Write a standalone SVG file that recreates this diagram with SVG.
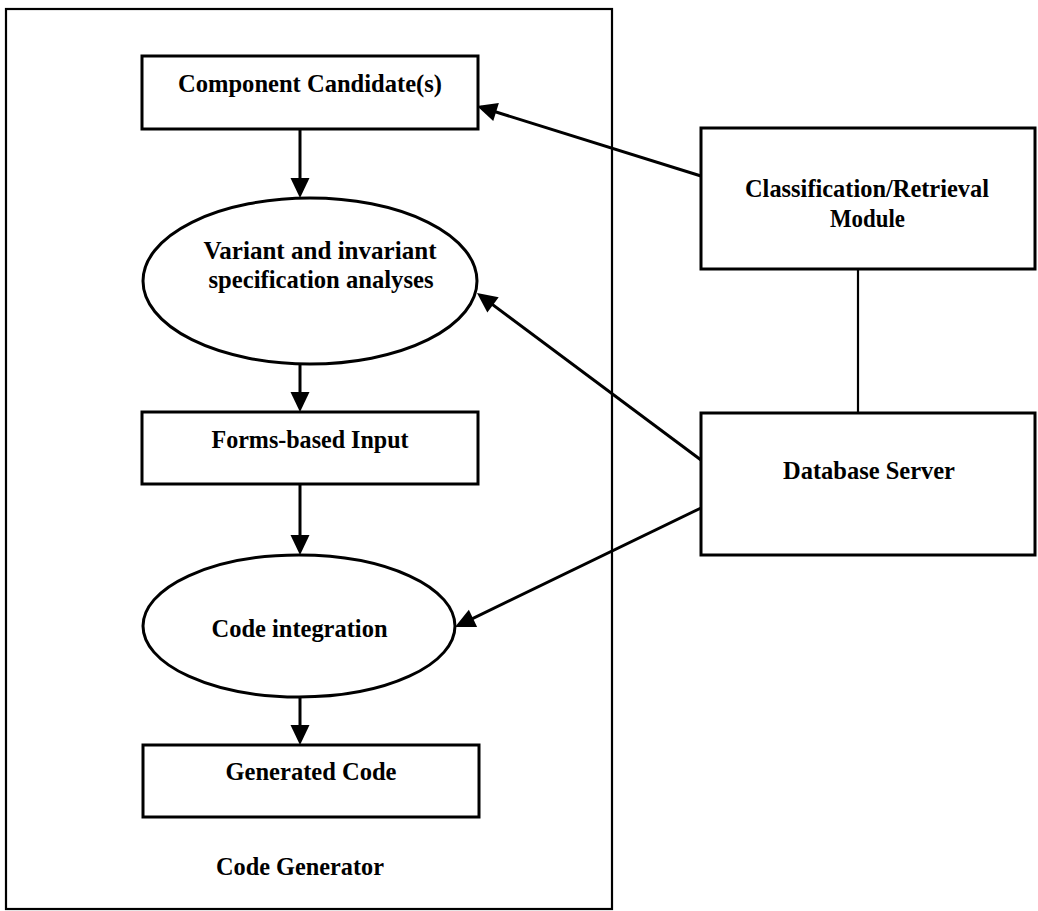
<svg xmlns="http://www.w3.org/2000/svg" width="1038" height="911" viewBox="0 0 1038 911">
  <style>
    .frame { fill: none; stroke: #000; stroke-width: 2.2; }
    .box { fill: #fff; stroke: #000; stroke-width: 3; }
    .oval { fill: #fff; stroke: #000; stroke-width: 3; }
    .label { font-family: "Liberation Serif", "Times New Roman", serif; font-weight: bold; font-size: 26px; fill: #000; text-anchor: middle; }
    .edge { fill: none; stroke: #000; stroke-width: 3; }
    .arrow { marker-end: url(#head); }
    .link { fill: none; stroke: #000; stroke-width: 2.2; }
  </style>
  <defs>
    <marker id="head" markerUnits="userSpaceOnUse" markerWidth="20" markerHeight="19" refX="16" refY="9.5" orient="auto" overflow="visible">
      <path d="M0,0 L20,9.5 L0,19 Z" fill="#000"/>
    </marker>
  </defs>

  <rect width="1038" height="911" fill="#fff"/>

  <!-- Code generator boundary -->
  <g id="code-generator">
    <rect class="frame" x="6" y="9" width="606" height="900"/>
    <text class="label" x="300" y="875" textLength="168" lengthAdjust="spacingAndGlyphs">Code Generator</text>
  </g>

  <g id="component-candidates">
    <rect class="box" x="142" y="56" width="336" height="73"/>
    <text class="label" x="310" y="92" textLength="264" lengthAdjust="spacingAndGlyphs">Component Candidate(s)</text>
  </g>

  <g id="spec-analyses">
    <ellipse class="oval" cx="310" cy="281" rx="167" ry="83"/>
    <text class="label" x="320" y="259" textLength="233" lengthAdjust="spacingAndGlyphs">Variant and invariant</text>
    <text class="label" x="321" y="288" textLength="225" lengthAdjust="spacingAndGlyphs">specification analyses</text>
  </g>

  <g id="forms-input">
    <rect class="box" x="142" y="412" width="336" height="72"/>
    <text class="label" x="310" y="448" textLength="197" lengthAdjust="spacingAndGlyphs">Forms-based Input</text>
  </g>

  <g id="code-integration">
    <ellipse class="oval" cx="299" cy="626" rx="156" ry="71"/>
    <text class="label" x="299.5" y="637" textLength="176" lengthAdjust="spacingAndGlyphs">Code integration</text>
  </g>

  <g id="generated-code">
    <rect class="box" x="143" y="745" width="336" height="72"/>
    <text class="label" x="311" y="780" textLength="171" lengthAdjust="spacingAndGlyphs">Generated Code</text>
  </g>

  <g id="classification-module">
    <rect class="box" x="701" y="128" width="334" height="141"/>
    <text class="label" x="867" y="197" textLength="244" lengthAdjust="spacingAndGlyphs">Classification/Retrieval</text>
    <text class="label" x="867.5" y="227" textLength="75" lengthAdjust="spacingAndGlyphs">Module</text>
  </g>

  <g id="database-server">
    <rect class="box" x="701" y="413" width="334" height="142"/>
    <text class="label" x="869" y="479" textLength="172" lengthAdjust="spacingAndGlyphs">Database Server</text>
  </g>

  <!-- Connectors -->
  <g id="connectors">
    <line class="edge arrow" x1="300" y1="129" x2="300" y2="194"/>
    <line class="edge arrow" x1="300" y1="364" x2="300" y2="408"/>
    <line class="edge arrow" x1="300" y1="484" x2="300" y2="551"/>
    <line class="edge arrow" x1="300" y1="697" x2="300" y2="741"/>
    <line class="edge arrow" x1="701" y1="176" x2="480.8" y2="107.2"/>
    <line class="edge arrow" x1="701" y1="460" x2="480.2" y2="295.4"/>
    <line class="edge arrow" x1="701" y1="508" x2="458.6" y2="625.3"/>
    <line class="link" x1="858" y1="269" x2="858" y2="413"/>
  </g>
</svg>
